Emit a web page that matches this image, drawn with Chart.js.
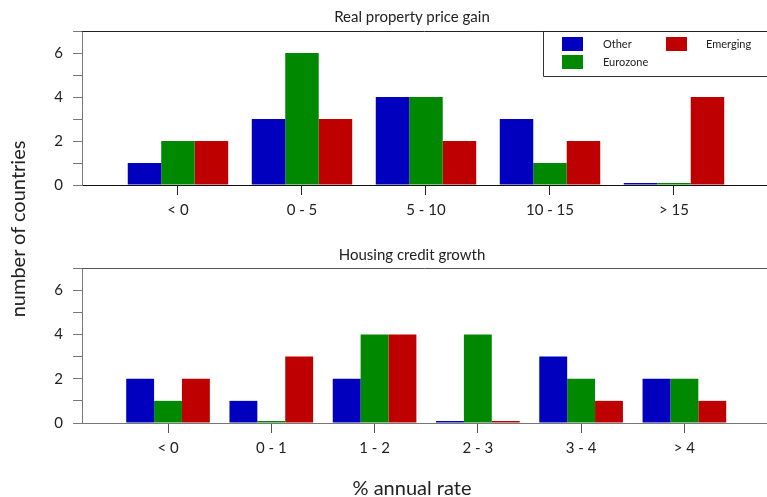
<!DOCTYPE html>
<html>
<head>
<meta charset="utf-8">
<script src="https://cdn.jsdelivr.net/npm/chart.js@4.4.1/dist/chart.umd.min.js"></script>
<style>
  html, body { margin: 0; padding: 0; background: #fff; }
  #wrap { position: relative; width: 767px; height: 497px; font-family: Lato, "Open Sans", sans-serif; color: #222; }
  canvas { position: absolute; left: 0; }
  .title { position: absolute; width: 400px; text-align: center; font-size: 15px; line-height: 18px; }
  .axlab { position: absolute; font-size: 20px; line-height: 24px; text-align: center; white-space: nowrap; }
</style>
</head>
<body>
<div id="wrap">
  <canvas id="priceChart" width="767" height="240" style="top:0"></canvas>
  <canvas id="creditChart" width="767" height="257" style="top:240px"></canvas>
  <div class="title" style="left:212px; top:7px;">Real property price gain</div>
  <div class="title" style="left:212px; top:245px;">Housing credit growth</div>
  <div class="axlab" style="left:-133px; top:217px; width:300px; transform:rotate(-90deg);">number of countries</div>
  <div class="axlab" style="left:262px; top:475px; width:300px;">% annual rate</div>
</div>
<script>
// Groups and counts of countries per bucket
const seriesNames = ['Other', 'Eurozone', 'Emerging'];
const seriesColors = ['#0000BE', '#008800', '#BE0000'];

const priceBuckets = ['< 0', '0 - 5', '5 - 10', '10 - 15', '> 15'];
const priceOther    = [1, 3, 4, 3, 0];
const priceEurozone = [2, 6, 4, 1, 0];
const priceEmerging = [2, 3, 2, 2, 4];

const creditBuckets = ['< 0', '0 - 1', '1 - 2', '2 - 3', '3 - 4', '> 4'];
const creditOther    = [2, 1, 2, 0, 3, 2];
const creditEurozone = [1, 0, 4, 4, 2, 2];
const creditEmerging = [2, 3, 4, 0, 1, 1];

const yTicks = [0, 1, 2, 3, 4, 5, 6, 7];

Chart.defaults.font.family = 'Lato, "Open Sans", sans-serif';
Chart.defaults.color = '#222';

// Frame line across the top of the plotting area
const topFrame = {
  id: 'topFrame',
  afterDraw(chart, args, opts) {
    const { ctx, chartArea } = chart;
    ctx.save();
    ctx.strokeStyle = opts.color || '#333';
    ctx.lineWidth = 1;
    ctx.beginPath();
    ctx.moveTo(chartArea.left, Math.round(chartArea.top) + 0.5);
    ctx.lineTo(chartArea.right, Math.round(chartArea.top) + 0.5);
    ctx.stroke();
    ctx.restore();
  }
};

// Boxed legend in the upper-right corner, two columns
const boxLegend = {
  id: 'boxLegend',
  afterDraw(chart, args, opts) {
    if (!opts.show) return;
    const { ctx, chartArea } = chart;
    const x0 = 543.5, y1 = 76.5, top = Math.round(chartArea.top) + 0.5;
    ctx.save();
    ctx.strokeStyle = '#333';
    ctx.lineWidth = 1;
    ctx.beginPath();
    ctx.moveTo(x0, top);
    ctx.lineTo(x0, y1);
    ctx.lineTo(chartArea.right, y1);
    ctx.stroke();
    const slots = [
      { sx: 562, sy: 37, tx: 603 },
      { sx: 562, sy: 55, tx: 603 },
      { sx: 666, sy: 37, tx: 706 }
    ];
    ctx.font = '11px Lato, "Open Sans", sans-serif';
    ctx.textBaseline = 'middle';
    chart.data.datasets.forEach((ds, i) => {
      const s = slots[i];
      ctx.fillStyle = ds.backgroundColor;
      ctx.fillRect(s.sx, s.sy, 21, 14);
      ctx.fillStyle = '#222';
      ctx.fillText(ds.label, s.tx, s.sy + 7);
    });
    ctx.restore();
  }
};

function makeChart(canvasId, buckets, values, opts) {
  const datasets = seriesNames.map((name, k) => ({
    label: name,
    data: values[k].map((v, i) => ({ x: i, y: v })),
    backgroundColor: seriesColors[k],
    borderWidth: 0,
    minBarLength: 2,
    categoryPercentage: 0.81,
    barPercentage: 1.0
  }));
  return new Chart(document.getElementById(canvasId), {
    type: 'bar',
    data: { datasets },
    plugins: [topFrame, boxLegend],
    options: {
      responsive: false,
      animation: false,
      devicePixelRatio: 1,
      layout: { padding: { top: opts.padTop, left: 0, right: 0, bottom: 0 } },
      plugins: {
        legend: { display: false },
        tooltip: { enabled: false },
        topFrame: { color: opts.frameColor },
        boxLegend: { show: opts.legend }
      },
      scales: {
        x: {
          type: 'linear',
          offset: false,
          min: opts.xMin,
          max: opts.xMax,
          afterBuildTicks(scale) {
            scale.ticks = buckets.map((b, i) => ({ value: i }));
          },
          afterFit(scale) { scale.height = opts.xHeight; },
          ticks: {
            callback: (v) => buckets[v],
            font: { size: 15 },
            color: '#222',
            padding: 6,
            maxRotation: 0,
            autoSkip: false
          },
          grid: {
            offset: false,
            drawOnChartArea: false,
            drawTicks: true,
            tickLength: 10,
            color: opts.tickColor
          },
          border: { display: true, color: opts.xAxisColor, width: 1 }
        },
        y: {
          type: 'linear',
          min: 0,
          max: 7,
          afterBuildTicks(scale) {
            scale.ticks = yTicks.map(v => ({ value: v }));
          },
          afterFit(scale) { scale.width = 82; },
          ticks: {
            callback: (v) => (v % 2 === 0 && v < 7 ? String(v) : ''),
            font: { size: 15 },
            color: '#222',
            padding: 10
          },
          grid: {
            drawOnChartArea: false,
            drawTicks: true,
            tickLength: 9,
            color: '#777'
          },
          border: { display: true, color: '#777', width: 1 }
        }
      }
    }
  });
}

makeChart('priceChart', priceBuckets, [priceOther, priceEurozone, priceEmerging], {
  padTop: 31, xHeight: 55, xMin: -0.774, xMax: 4.75,
  legend: true, frameColor: '#222', xAxisColor: '#111', tickColor: '#222'
});

makeChart('creditChart', creditBuckets, [creditOther, creditEurozone, creditEmerging], {
  padTop: 28, xHeight: 74, xMin: -0.833, xMax: 5.80,
  legend: false, frameColor: '#555', xAxisColor: '#777', tickColor: '#555'
});
</script>
</body>
</html>
